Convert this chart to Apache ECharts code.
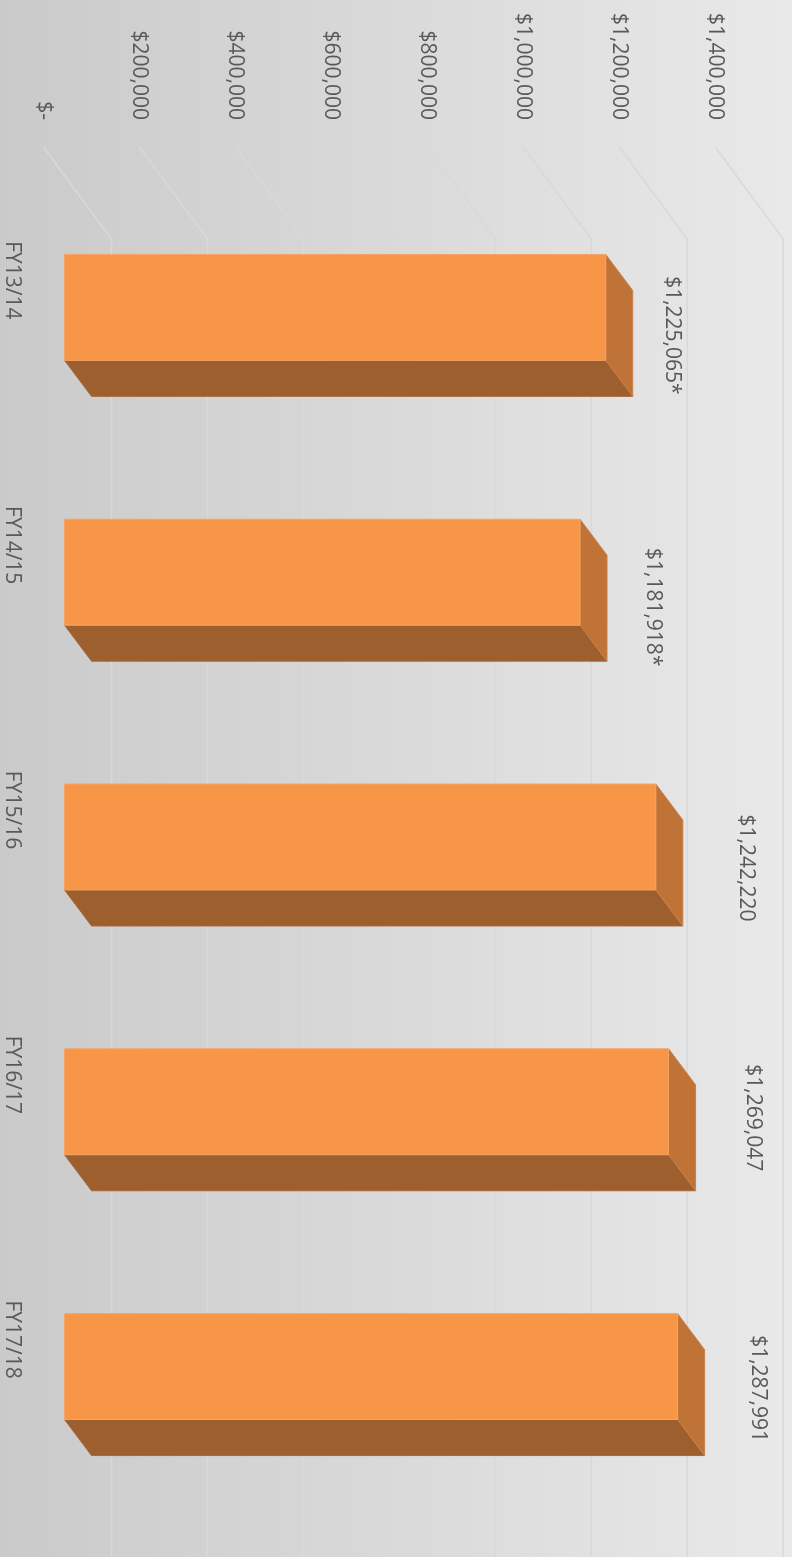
<!DOCTYPE html>
<html>
<head>
<meta charset="utf-8">
<script src="https://cdn.jsdelivr.net/npm/echarts@6/dist/echarts.min.js"></script>
<style>
  html, body { margin: 0; padding: 0; }
  #chart { width: 792px; height: 1557px; }
</style>
</head>
<body>
<div id="chart"></div>
<script>
// chart data
const categories = ['FY13/14', 'FY14/15', 'FY15/16', 'FY16/17', 'FY17/18'];
const barValues = [1137000, 1083000, 1242220, 1269047, 1287991];   // bar lengths as drawn
const labelTexts = ['$1,225,065*', '$1,181,918*', '$1,242,220', '$1,269,047', '$1,287,991'];
const tickValues = [0, 200000, 400000, 600000, 800000, 1000000, 1200000, 1400000];
const tickLabels = ['$-', '$200,000', '$400,000', '$600,000', '$800,000', '$1,000,000', '$1,200,000', '$1,400,000'];

// layout bits (3d offsets, label nudges)
const DEPTH = [27, 36];          // bar depth
const FLOOR_FRONT = [-21, -28];  // floor front edge relative to bar front plane
const BACK_WALL = [47, 64];      // back wall relative to bar front plane
const WALL_SCALE = 1.008;        // walls are a touch wider than the bar plane
const labelNudge = [[66, 28], [73, 35], [90, 31], [84, 16], [80, 22]];

const TEXT_COLOR = '#595959';
const FONT = '21px "Open Sans"';
const GRID_COLOR = '#d9d9d9';

let chart = echarts.init(document.getElementById('chart'));

function wallItem(params, api) {
    const cs = params.coordSys;
    const v = api.value(0);
    const px = cs.x + (api.coord([v, 0])[0] - cs.x) * WALL_SCALE;
    const top = cs.y;
    const fx = px + FLOOR_FRONT[0], fy = top + FLOOR_FRONT[1];
    const bx = px + BACK_WALL[0], by = top + BACK_WALL[1];
    return {
        type: 'group',
        children: [
            { type: 'polyline', shape: { points: [[fx, fy], [bx, by], [bx, 1600]] },
              style: { stroke: GRID_COLOR, lineWidth: 1.5, fill: null } },
            { type: 'text', x: fx, y: fy - 27, rotation: -Math.PI / 2,
              style: { text: tickLabels[params.dataIndex], font: FONT, fill: TEXT_COLOR,
                       align: 'right', verticalAlign: 'middle' } }
        ]
    };
}

function barItem(params, api) {
    const idx = params.dataIndex;
    const p = api.coord([api.value(0), idx]);
    const p0 = api.coord([0, idx]);
    const h = api.size([0, 1])[1] * 0.4;
    const xv = p[0], x0 = p0[0], yc = p[1];
    const y1 = yc - h / 2, y2 = yc + h / 2;
    const dx = DEPTH[0], dy = DEPTH[1];
    return {
        type: 'group',
        children: [
            { type: 'polygon', shape: { points: [[x0, y2], [xv, y2], [xv + dx, y2 + dy], [x0 + dx, y2 + dy]] },
              style: { fill: '#9c5f2d', stroke: '#a8673a', lineWidth: 1 } },
            { type: 'polygon', shape: { points: [[xv, y1], [xv + dx, y1 + dy], [xv + dx, y2 + dy], [xv, y2]] },
              style: { fill: '#bf7336', stroke: '#c98049', lineWidth: 1 } },
            { type: 'rect', shape: { x: x0, y: y1, width: xv - x0, height: h },
              style: { fill: '#f79646', stroke: '#f6a468', lineWidth: 1 } },
            { type: 'text', x: 12, y: yc - 27, rotation: -Math.PI / 2,
              style: { text: categories[idx], font: FONT, fill: TEXT_COLOR,
                       align: 'center', verticalAlign: 'middle' } },
            { type: 'text', x: xv + labelNudge[idx][0], y: yc + labelNudge[idx][1], rotation: -Math.PI / 2,
              style: { text: labelTexts[idx], font: FONT, fill: TEXT_COLOR,
                       align: 'center', verticalAlign: 'middle' } }
        ]
    };
}

let option = {
    animation: false,
    backgroundColor: {
        type: 'linear', x: 0, y: 0, x2: 1, y2: 0,
        colorStops: [{ offset: 0, color: '#cacaca' }, { offset: 1, color: '#e9e9e9' }]
    },
    grid: { left: 64.5, top: 175, width: 1.4 * 476, height: 1324 },
    xAxis: { type: 'value', min: 0, max: 1400000, interval: 200000, show: false },
    yAxis: { type: 'category', data: categories, inverse: true, show: false },
    series: [
        {
            type: 'custom',
            renderItem: wallItem,
            data: tickValues.map(v => [v, 0]),
            encode: { x: 0, y: 1 },
            clip: false,
            z: 1
        },
        {
            type: 'custom',
            renderItem: barItem,
            data: barValues.map((v, i) => [v, i]),
            encode: { x: 0, y: 1 },
            clip: false,
            z: 2
        }
    ]
};

option && chart.setOption(option);
</script>
</body>
</html>
